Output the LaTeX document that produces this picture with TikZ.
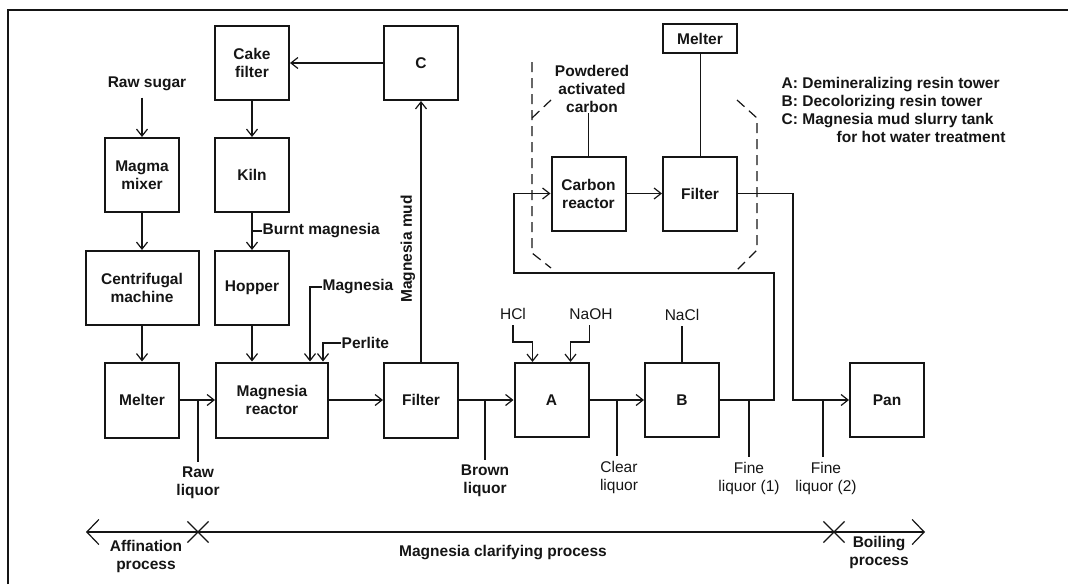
\documentclass[tikz,border=0pt]{standalone}
\usepackage{fontspec}
\setmainfont{Liberation Sans}
\usetikzlibrary{arrows.meta,positioning,shapes.misc}
\definecolor{InkBlack}{HTML}{151515}

\begin{document}
\begin{tikzpicture}[x=1pt,y=-1pt,
    every node/.style={font=\fontsize{15.5}{18}\selectfont\bfseries,text=InkBlack},
    unit/.style={draw=InkBlack,line width=2pt,minimum width=74pt,minimum height=74pt,align=center,inner sep=2pt},
    pipe/.style={draw=InkBlack,line width=1.2pt},
    feed/.style={pipe,-{Straight Barb[length=7pt,width=11pt]}},
    tag/.style={align=center,inner sep=0.5pt},
    lite/.style={font=\fontsize{15.5}{18}\selectfont},
    xmark/.style={cross out,draw=InkBlack,line width=1.2pt,minimum size=20pt,inner sep=0pt},
    hood/.style={draw=InkBlack,line width=1.2pt,dash pattern=on 10pt off 6pt},
    span/.style={pipe,{Straight Barb[length=12pt,width=25pt]}-{Straight Barb[length=12pt,width=25pt]}}]
  \useasboundingbox (0,0) rectangle (1068,584);
  % frame
  \draw[InkBlack,line width=2pt] (8,584) -- (8,10) -- (1068,10);

  % units
  \node[unit] (cake) at (252,63) {Cake\\filter};
  \node[unit] (tankc) at (421,63) {C};
  \node[unit] (mixer) at (142,175) {Magma\\mixer};
  \node[unit] (kiln) at (252,175) {Kiln};
  \node[unit,minimum width=113pt] (centri) at (142,288) {Centrifugal\\machine};
  \node[unit] (hopper) at (252,288) {Hopper};
  \node[unit,minimum height=75pt] (melter) at (142,400) {Melter};
  \node[unit,minimum width=112pt,minimum height=75pt] (mgreact) at (272,400) {Magnesia\\reactor};
  \node[unit,minimum height=75pt] (mgfilter) at (421,400) {Filter};
  \node[unit] (towera) at (551.5,400) {A};
  \node[unit] (towerb) at (682,400) {B};
  \node[unit] (pan) at (887,400) {Pan};
  \node[unit,minimum height=29pt] (melter2) at (700,38.5) {Melter};
  \node[unit] (creact) at (588.5,193.5) {Carbon\\reactor};
  \node[unit] (cfilter) at (700,193.5) {Filter};

  % labels
  \node[tag] (rawsugar) at (147,84) {Raw sugar};
  \node[tag,anchor=west] (burnt) at (262,231) {Burnt magnesia};
  \node[tag,anchor=west] (mgfeed) at (322,287) {Magnesia};
  \node[tag,anchor=west] (perlite) at (341,343) {Perlite};
  \node[tag,rotate=90] (mud) at (408,249) {Magnesia mud};
  \node[tag,lite] (hcl) at (513,314) {HCl};
  \node[tag,lite] (naoh) at (591,314) {NaOH};
  \node[tag,lite] (nacl) at (682,315) {NaCl};
  \node[tag] (pac) at (592,89) {Powdered\\activated\\carbon};
  \node[tag] (rawliq) at (198,483) {Raw\\liquor};
  \node[tag] (brownliq) at (485,481) {Brown\\liquor};
  \node[tag,lite] (clearliq) at (619,477) {Clear\\liquor};
  \node[tag,lite] (fine1) at (749,478) {Fine\\liquor (1)};
  \node[tag,lite] (fine2) at (826,478) {Fine\\liquor (2)};
  \node[tag,anchor=north west,align=left] (legend) at (781,77)
    {A: Demineralizing resin tower\\B: Decolorizing resin tower\\C: Magnesia mud slurry tank\\\hspace*{55pt}for hot water treatment};

  % main flow
  \draw[feed] (tankc) -- (cake);
  \draw[feed] ([yshift=-6pt]rawsugar.south -| mixer.north) -- (mixer);
  \draw[feed] (cake) -- (kiln);
  \draw[feed] (kiln) -- (hopper);
  \draw[pipe] (burnt.west) -- (burnt.west -| kiln.south);
  \draw[feed] (mixer) -- (centri);
  \draw[feed] (centri) -- (melter);
  \draw[feed] (hopper) -- (hopper.south |- mgreact.north);
  \draw[feed] (mgfeed.west) -| ([xshift=-19pt]mgreact.north east);
  \draw[feed] (perlite.west) -| ([xshift=-6pt]mgreact.north east);
  \draw[feed] (melter) -- (mgreact);
  \draw[feed] (mgreact) -- (mgfilter);
  \draw[feed] (mgfilter) -- (tankc);
  \draw[feed] (mgfilter) -- (towera);
  \draw[feed] ([yshift=-5pt]hcl.south) |- ([xshift=19pt,yshift=20pt]towera.north west) -- ([xshift=19pt]towera.north west);
  \draw[feed] ([yshift=-5pt]naoh.south -| towera.north east) |- ([xshift=-19pt,yshift=20pt]towera.north east) -- ([xshift=-19pt]towera.north east);
  \draw[feed] (towera) -- (towerb);
  \draw[pipe] ([yshift=-5pt]nacl.south) -- (nacl.south |- towerb.north);

  % taps
  \draw[pipe] (rawliq.north |- melter.east) -- ([yshift=4pt]rawliq.north);
  \draw[pipe] (brownliq.north |- mgfilter.east) -- ([yshift=4pt]brownliq.north);
  \draw[pipe] ([xshift=-2pt]clearliq.north |- towera.east) -- ([xshift=-2pt,yshift=4pt]clearliq.north);
  \draw[pipe] (fine1.north |- towerb.east) -- ([yshift=4pt]fine1.north);
  \draw[pipe] ([xshift=-3pt]fine2.north |- pan.west) -- ([xshift=-3pt,yshift=4pt]fine2.north);

  % carbon loop
  \coordinate (loopa) at (774,273);
  \coordinate (loopb) at (514,273);
  \coordinate (bypass) at (793,300);
  \draw[feed] (towerb.east) -| (loopa) -- (loopb) |- (creact.west);
  \draw[feed] (creact) -- (cfilter);
  \draw[feed] (cfilter.east) -| (bypass) |- (pan.west);
  \draw[pipe] (pac.south -| creact.north) -- (creact.north);
  \draw[draw=InkBlack,line width=0.6pt] (melter2) -- (cfilter);
  \draw[hood] (532,62) -- (532,253) -- (551,268);
  \draw[hood] (551,100) -- (532,118);
  \draw[hood] (737,100) -- (757,118) -- (757,250) -- (735,272);

  % process span
  \coordinate (procl) at (86,532);
  \coordinate (procr) at (925,532);
  \node[xmark] (affx) at (198,532) {};
  \node[xmark] (boilx) at (834,532) {};
  \draw[span] (procl) -- (procr);
  \node[tag] (affin) at (146,556) {Affination\\process};
  \node[tag] (clarif) at (503,553) {Magnesia clarifying process};
  \node[tag] (boil) at (879,552) {Boiling\\process};
\end{tikzpicture}
\end{document}
